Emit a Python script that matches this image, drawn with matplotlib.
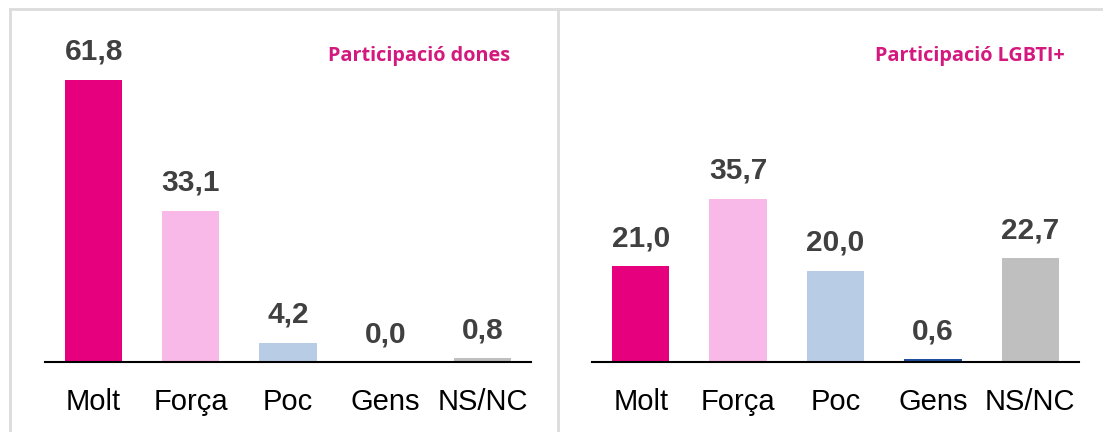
import matplotlib.pyplot as plt
from matplotlib.lines import Line2D

categories = ['Molt', 'Força', 'Poc', 'Gens', 'NS/NC']
dones = [61.8, 33.1, 4.2, 0.0, 0.8]
lgbti = [21.0, 35.7, 20.0, 0.6, 22.7]
titles = ['Participació dones', 'Participació LGBTI+']
colors = ['#E6007E', '#F8B9E8', '#B8CDE5', '#1F4E9A', '#BFBFBF']

W, H = 1103, 432
fig = plt.figure(figsize=(W / 100, H / 100), dpi=100)


def px_axes(x0, x1, y_bottom, y_top):
    return fig.add_axes([x0 / W, 1 - y_bottom / H, (x1 - x0) / W, (y_bottom - y_top) / H])


def draw_panel(ax, values, title, title_x):
    x = range(len(categories))
    ax.bar(x, values, width=0.59, color=colors)
    ax.set_xlim(-0.5, 4.5)
    ax.set_ylim(0, 300 / 4.57)
    for i, v in enumerate(values):
        ax.annotate(f'{v:.1f}'.replace('.', ','), (i, v), xytext=(0, 10),
                    textcoords='offset points', ha='center', va='bottom',
                    fontsize=21.5, fontweight='bold', color='#404040',
                    family='Liberation Sans')
    ax.set_xticks(list(x))
    ax.set_xticklabels(categories, fontsize=21, family='Liberation Sans')
    ax.tick_params(axis='x', length=0, pad=19)
    ax.set_yticks([])
    for s in ['top', 'right', 'left']:
        ax.spines[s].set_visible(False)
    ax.spines['bottom'].set_linewidth(1.5)
    fig.text(title_x / W, 1 - 56 / H, title, ha='right', va='center',
             fontsize=14.3, fontweight='bold', color='#D4197E', family='Open Sans')


ax1 = px_axes(45, 531, 362, 62)
draw_panel(ax1, dones, titles[0], 510)
ax2 = px_axes(592, 1079, 362, 62)
draw_panel(ax2, lgbti, titles[1], 1065)

# panel borders
border = '#DCDCDC'
fig.add_artist(Line2D([10 / W, 1], [1 - 9 / H, 1 - 9 / H], color=border, lw=2))
fig.add_artist(Line2D([10 / W, 10 / W], [0, 1 - 9 / H], color=border, lw=2))
fig.add_artist(Line2D([558 / W, 558 / W], [0, 1 - 9 / H], color=border, lw=2))

fig.savefig('out.png', dpi=100)
